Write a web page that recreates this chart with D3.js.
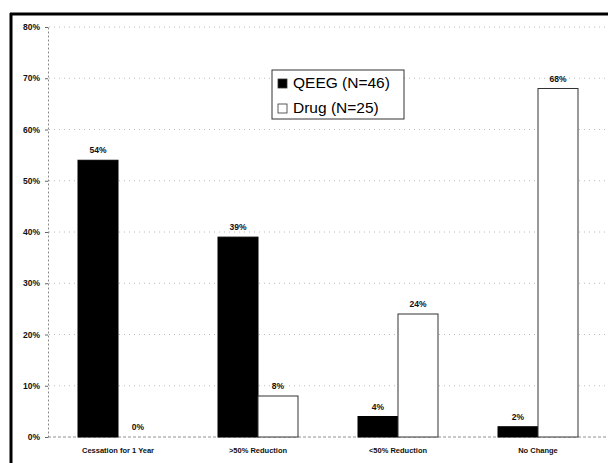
<!DOCTYPE html>
<html>
<head>
    <meta charset="utf-8">
    <style>
        body { margin: 0; background: white; overflow: hidden; }
        svg { display: block; }
        .y.axis text { font-size: 8.5px; font-family: Arial, "Liberation Sans", sans-serif; font-weight: bold; fill: #111; }
        .x.axis text { font-size: 7.5px; font-family: Arial, "Liberation Sans", sans-serif; font-weight: bold; fill: #111; }
    </style>
</head>
<body>
    <svg width="608" height="463"></svg>

<script src="https://d3js.org/d3.v7.min.js"></script>
<script>
    // data
    let categories = ["Cessation for 1 Year", ">50% Reduction", "<50% Reduction", "No Change"]
    let seriesNames = ["QEEG (N=46)", "Drug (N=25)"]
    let qeegValues = [54, 39, 4, 2]
    let drugValues = [0, 8, 24, 68]
    let yTicks = [0, 10, 20, 30, 40, 50, 60, 70, 80]

    let svg = d3.select("svg")

    let x = d3.scaleBand()
        .domain(categories)
        .range([48, 608])
        .paddingInner(0.4286)
        .paddingOuter(0.2143)

    let xSub = d3.scaleBand()
        .domain(seriesNames)
        .range([0, x.bandwidth()])

    let y = d3.scaleLinear()
        .domain([0, 80])
        .range([437, 27])

    // faint dotted gridlines like the photocopy
    svg.append("g")
        .selectAll("line")
        .data(yTicks.filter(d => d > 0))
        .join("line")
        .attr("x1", 49)
        .attr("x2", 608)
        .attr("y1", d => y(d))
        .attr("y2", d => y(d))
        .style("stroke", "#a8a8a8")
        .style("stroke-width", 0.8)
        .style("stroke-dasharray", "1,4")

    // y axis
    let yAxisSettings = d3.axisLeft(y)
        .tickValues(yTicks)
        .tickFormat(d => d + "%")
        .tickSize(3)
        .tickPadding(5)
        .tickSizeOuter(0)

    svg.append("g")
        .attr("class", "y axis")
        .attr("transform", "translate(48,0)")
        .call(yAxisSettings)
        .call(g => g.select(".domain")
            .style("stroke", "#888")
            .style("stroke-dasharray", "2,2"))
        .call(g => g.selectAll(".tick line").style("stroke", "#666"))

    // baseline
    svg.append("line")
        .attr("x1", 48)
        .attr("x2", 608)
        .attr("y1", y(0))
        .attr("y2", y(0))
        .style("stroke", "#777")
        .style("stroke-width", 0.8)
        .style("stroke-dasharray", "3,2")

    // x axis labels only
    let xAxisSettings = d3.axisBottom(x)
        .tickSize(0)
        .tickPadding(11)

    svg.append("g")
        .attr("class", "x axis")
        .attr("transform", `translate(0,${y(0)})`)
        .call(xAxisSettings)
        .call(g => g.select(".domain").remove())

    let rows = categories.map((c, i) => ({
        cat: c,
        vals: [
            { name: seriesNames[0], value: qeegValues[i] },
            { name: seriesNames[1], value: drugValues[i] }
        ]
    }))

    let groups = svg.append("g")
        .selectAll("g")
        .data(rows)
        .join("g")
        .attr("transform", d => `translate(${x(d.cat)},0)`)

    groups.selectAll("rect")
        .data(d => d.vals)
        .join("rect")
        .attr("x", d => xSub(d.name))
        .attr("y", d => y(d.value))
        .attr("width", xSub.bandwidth())
        .attr("height", d => y(0) - y(d.value))
        .style("fill", d => d.name == seriesNames[0] ? "#000" : "#fff")
        .style("stroke", d => d.name == seriesNames[0] ? "#000" : "#333")
        .style("stroke-width", 1)

    groups.selectAll("text")
        .data(d => d.vals)
        .join("text")
        .attr("x", d => xSub(d.name) + xSub.bandwidth() / 2)
        .attr("y", d => y(d.value) - 7)
        .attr("text-anchor", "middle")
        .style("font-family", "Arial, 'Liberation Sans', sans-serif")
        .style("font-size", "8.5px")
        .style("font-weight", "bold")
        .style("fill", "#111")
        .text(d => d.value + "%")

    // legend
    let legend = svg.append("g")
        .attr("transform", "translate(272,70)")

    legend.append("rect")
        .attr("width", 132)
        .attr("height", 49)
        .style("fill", "#fff")
        .style("stroke", "#333")
        .style("stroke-width", 1)

    let items = legend.selectAll("g")
        .data(seriesNames)
        .join("g")
        .attr("transform", (d, i) => `translate(6,${18 + i * 25})`)

    items.append("rect")
        .attr("x", 0)
        .attr("y", -9)
        .attr("width", 9)
        .attr("height", 9)
        .style("fill", (d, i) => i == 0 ? "#000" : "#fff")
        .style("stroke", "#333")
        .style("stroke-width", 0.8)

    items.append("text")
        .attr("x", 15)
        .attr("y", 0)
        .style("font-family", "Arial, 'Liberation Sans', sans-serif")
        .style("font-size", "15.5px")
        .style("fill", "#000")
        .text(d => d)

    // thick scanned frame on top and left
    svg.append("line")
        .attr("x1", 10).attr("x2", 608)
        .attr("y1", 14).attr("y2", 14)
        .style("stroke", "#000")
        .style("stroke-width", 3)

    svg.append("line")
        .attr("x1", 11).attr("x2", 11)
        .attr("y1", 13).attr("y2", 463)
        .style("stroke", "#000")
        .style("stroke-width", 3)
</script>
</body>
</html>
